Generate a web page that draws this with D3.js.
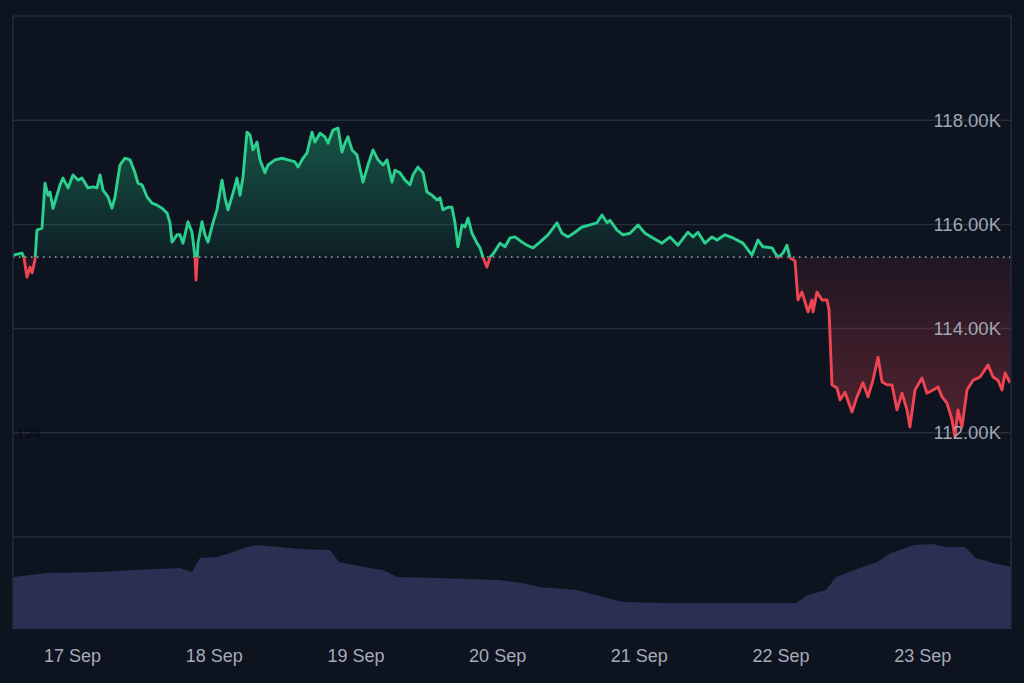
<!DOCTYPE html>
<html>
<head>
<meta charset="utf-8">
<script src="https://cdn.jsdelivr.net/npm/d3@7"></script>
<style>
  html, body { margin: 0; padding: 0; background: #0d131f; }
  svg { display: block; }
  text { font-family: "Liberation Sans", Arial, sans-serif; }
</style>
</head>
<body>
<div id="container"></div>
<script>
let w = 1024;
let h = 683;

// hours since 16 Sep 14:00 and BTC price in thousands of USD
let hours = [0, 1.52, 1.86, 2.37, 2.88, 3.22, 3.73, 4.06, 4.91, 5.42, 5.93, 6.27, 6.77, 7.45, 7.96, 8.47, 9.32, 10.16, 11.01, 11.69,
  12.7, 13.55, 14.23, 14.74, 15.24, 16.09, 16.77, 17.28, 18.12, 18.97, 19.82, 20.66, 21.17, 21.85, 22.7, 23.54, 24.39, 25.24, 26.08, 26.59,
  26.93, 27.78, 28.28, 28.79, 29.64, 30.32, 30.83, 31.0, 31.33, 32.01, 32.52, 33.03, 33.87, 34.55, 35.4, 35.91, 36.41, 37.26, 37.94, 38.45,
  38.96, 39.63, 40.14, 40.65, 41.33, 41.83, 42.68, 43.19, 44.37, 45.56, 46.58, 47.76, 48.27, 49.12, 49.79, 50.64, 51.15, 52.0, 52.84, 53.35,
  54.2, 55.05, 55.72, 56.23, 56.74, 57.42, 58.26, 59.28, 60.13, 60.97, 61.82, 62.67, 63.34, 64.19, 64.7, 65.55, 66.39, 67.24, 67.75, 68.59,
  69.44, 70.12, 70.97, 71.81, 72.32, 72.83, 73.68, 74.35, 74.86, 75.37, 76.05, 76.56, 77.06, 77.74, 78.59, 79.1, 79.6, 80.28, 80.79, 81.3,
  82.48, 83.33, 84.18, 85.02, 86.21, 87.06, 88.07, 89.26, 90.61, 92.14, 92.98, 94.0, 95.19, 96.37, 97.73, 98.91, 99.76, 100.61, 101.11, 102.3,
  103.32, 104.5, 105.86, 107.04, 108.4, 109.92, 111.28, 112.63, 114.32, 115.17, 116.02, 117.2, 118.39, 119.24, 120.59, 121.95, 123.64, 125.16, 126.18, 127.03,
  128.55, 129.57, 130.41, 131.09, 131.6, 132.45, 132.95, 133.63, 134.14, 134.65, 135.33, 135.5, 136.17, 137.02, 137.87, 138.21, 138.71, 139.56, 140.07, 140.92,
  142.1, 142.95, 143.96, 144.81, 145.66, 146.51, 147.18, 148.03, 148.88, 149.72, 150.57, 151.42, 151.92, 152.77, 153.96, 154.8, 155.82, 156.67, 157.35, 158.19,
  159.04, 159.55, 160.05, 160.73, 161.58, 162.6, 163.78, 165.14, 165.99, 166.83, 167.51, 168.02, 168.86];

let prices = [115.41, 115.45, 115.36, 114.99, 115.18, 115.07, 115.32, 115.89, 115.93, 116.79, 116.56, 116.62, 116.31, 116.56, 116.76, 116.89, 116.70, 116.95, 116.85, 116.89,
  116.70, 116.72, 116.70, 116.95, 116.66, 116.53, 116.31, 116.53, 117.14, 117.27, 117.24, 116.99, 116.79, 116.76, 116.53, 116.41, 116.37, 116.31, 116.22, 116.03,
  115.66, 115.80, 115.80, 115.64, 116.05, 115.85, 115.37, 114.93, 115.64, 116.05, 115.80, 115.66, 116.03, 116.28, 116.85, 116.51, 116.28, 116.60, 116.89, 116.56,
  116.91, 117.77, 117.72, 117.43, 117.58, 117.24, 116.99, 117.14, 117.24, 117.27, 117.24, 117.20, 117.10, 117.27, 117.37, 117.77, 117.58, 117.75, 117.68, 117.56,
  117.81, 117.85, 117.39, 117.56, 117.68, 117.43, 117.33, 116.81, 117.14, 117.43, 117.24, 117.14, 117.24, 116.81, 117.04, 116.99, 116.85, 116.76, 116.95, 117.10,
  116.99, 116.62, 116.56, 116.47, 116.51, 116.28, 116.33, 116.33, 116.03, 115.57, 115.99, 115.95, 116.12, 115.83, 115.64, 115.55, 115.37, 115.18, 115.37, 115.43,
  115.64, 115.57, 115.74, 115.76, 115.66, 115.60, 115.55, 115.66, 115.80, 116.03, 115.83, 115.76, 115.85, 115.95, 115.99, 116.03, 116.18, 116.03, 116.08, 115.89,
  115.80, 115.83, 115.99, 115.83, 115.74, 115.64, 115.76, 115.60, 115.85, 115.76, 115.85, 115.64, 115.76, 115.70, 115.80, 115.74, 115.64, 115.41, 115.70, 115.57,
  115.55, 115.36, 115.45, 115.60, 115.36, 115.30, 114.55, 114.70, 114.51, 114.32, 114.55, 114.32, 114.70, 114.55, 114.55, 114.36, 112.92, 112.86, 112.63, 112.78,
  112.40, 112.69, 112.96, 112.69, 113.01, 113.45, 112.98, 112.92, 112.92, 112.44, 112.76, 112.44, 112.11, 112.82, 113.05, 112.76, 112.82, 112.88, 112.69, 112.57,
  112.25, 111.92, 112.44, 112.11, 112.82, 113.01, 113.07, 113.30, 113.07, 113.01, 112.82, 113.15, 112.96];

let baseValue = 115.37;

// 24h volume, billions USD
let volHours = [0, 5.93, 14.74, 20.32, 28.28, 30.32, 31.67, 34.55, 37.26, 39.63, 41.33, 48.61, 53.69, 55.21, 60.3, 62.67, 65.04, 72.15, 82.31, 86.21,
  89.26, 95.52, 98.57, 103.32, 111.11, 132.62, 134.65, 137.7, 139.39, 142.44, 146.34, 148.71, 152.6, 155.82, 158.02, 161.24, 163.1, 165.99, 169.03];
let volumes = [31.2, 33.6, 34.2, 35.4, 36.6, 34.2, 42.6, 43.2, 46.2, 49.2, 50.4, 48.0, 47.4, 40.2, 36.6, 35.4, 31.2, 30.6, 29.4, 27.6,
  25.2, 23.4, 20.4, 16.2, 15.6, 15.6, 20.4, 23.4, 31.2, 35.4, 40.2, 45.6, 50.4, 51.0, 49.2, 49.2, 42.6, 39.6, 37.2];

let gridValues = [110, 112, 114, 116, 118, 120];
let priceTicks = [112, 114, 116, 118];

let start = new Date(2025, 8, 16, 14, 0);
let end = new Date(2025, 8, 23, 15, 2);
let toDate = function(hr){ return new Date(start.getTime() + hr * 3600e3); };

let priceData = hours.map(function(d, i){ return {t: toDate(d), p: prices[i]}; });
let volData = volHours.map(function(d, i){ return {t: toDate(d), v: volumes[i]}; });

let padL = 13, padR = 1011, padT = 16, paneSplit = 537, padB = 629;

let x = d3.scaleTime().domain([start, end]).range([padL, padR]);
let y = d3.scaleLinear().domain([110, 120]).range([paneSplit, padT]);
let yVol = d3.scaleLinear().domain([0, 55.2]).range([padB, paneSplit]);
let baseY = y(baseValue);

let viz = d3.select("#container").append("svg")
    .attr("width", w)
    .attr("height", h)
;
viz.append("rect").attr("width", w).attr("height", h).attr("fill", "#0d131f");

let defs = viz.append("defs");
defs.append("clipPath").attr("id", "above")
  .append("rect").attr("x", padL).attr("y", padT).attr("width", padR - padL).attr("height", baseY - padT);
defs.append("clipPath").attr("id", "below")
  .append("rect").attr("x", padL).attr("y", baseY).attr("width", padR - padL).attr("height", paneSplit - baseY);

let gGreen = defs.append("linearGradient").attr("id", "gGreen")
  .attr("gradientUnits", "userSpaceOnUse")
  .attr("x1", 0).attr("x2", 0).attr("y1", y(d3.max(prices))).attr("y2", baseY);
gGreen.append("stop").attr("offset", 0).attr("stop-color", "#26c98b").attr("stop-opacity", 0.36);
gGreen.append("stop").attr("offset", 1).attr("stop-color", "#26c98b").attr("stop-opacity", 0.07);

let gRed = defs.append("linearGradient").attr("id", "gRed")
  .attr("gradientUnits", "userSpaceOnUse")
  .attr("x1", 0).attr("x2", 0).attr("y1", baseY).attr("y2", y(d3.min(prices)));
gRed.append("stop").attr("offset", 0).attr("stop-color", "#ef4452").attr("stop-opacity", 0.08);
gRed.append("stop").attr("offset", 1).attr("stop-color", "#ef4452").attr("stop-opacity", 0.32);

// grid
viz.append("g").selectAll("line").data(gridValues).enter()
  .append("line")
  .attr("x1", padL).attr("x2", padR)
  .attr("y1", function(d){ return y(d); })
  .attr("y2", function(d){ return y(d); })
  .attr("stroke", "#262d3b")
  .attr("stroke-width", 1.5);

// volume pane
let volArea = d3.area()
  .x(function(d){ return x(d.t); })
  .y0(padB)
  .y1(function(d){ return yVol(d.v); });
viz.append("path").datum(volData)
  .attr("d", volArea)
  .attr("fill", "#293051");

// baseline series
let area = d3.area()
  .x(function(d){ return x(d.t); })
  .y0(baseY)
  .y1(function(d){ return y(d.p); });
let line = d3.line()
  .x(function(d){ return x(d.t); })
  .y(function(d){ return y(d.p); });

viz.append("path").datum(priceData).attr("d", area)
  .attr("fill", "url(#gGreen)").attr("clip-path", "url(#above)");
viz.append("path").datum(priceData).attr("d", area)
  .attr("fill", "url(#gRed)").attr("clip-path", "url(#below)");

viz.append("line")
  .attr("x1", padL).attr("x2", padR)
  .attr("y1", baseY).attr("y2", baseY)
  .attr("stroke", "#c9ccd4")
  .attr("stroke-width", 1.3)
  .attr("stroke-dasharray", "1.5,4.5");

viz.append("path").datum(priceData).attr("d", line)
  .attr("fill", "none").attr("stroke", "#2bd08e").attr("stroke-width", 2.9)
  .attr("stroke-linejoin", "round").attr("clip-path", "url(#above)");
viz.append("path").datum(priceData).attr("d", line)
  .attr("fill", "none").attr("stroke", "#ef4452").attr("stroke-width", 2.9)
  .attr("stroke-linejoin", "round").attr("clip-path", "url(#below)");

// frame
viz.append("line").attr("x1", padL).attr("x2", padL).attr("y1", padT).attr("y2", padB)
  .attr("stroke", "#262d3b").attr("stroke-width", 1.5);
viz.append("line").attr("x1", padR).attr("x2", padR).attr("y1", padT).attr("y2", padB)
  .attr("stroke", "#262d3b").attr("stroke-width", 1.5);

// price labels
let yAxis = d3.axisLeft(y)
  .tickValues(priceTicks)
  .tickSize(0)
  .tickPadding(0)
  .tickFormat(function(d){ return d3.format(".2f")(d) + "K"; });
let yg = viz.append("g").attr("transform", "translate(1001,0)").call(yAxis);
yg.select(".domain").remove();
yg.selectAll("text")
  .attr("fill", "#a2a6b3")
  .attr("font-size", 18.5)
  .style("font-family", "Liberation Sans, Arial, sans-serif");

// date labels
let xAxis = d3.axisBottom(x)
  .ticks(d3.timeDay.every(1))
  .tickSize(0)
  .tickPadding(0)
  .tickFormat(d3.timeFormat("%-d %b"));
let xg = viz.append("g").attr("transform", "translate(0,649)").call(xAxis);
xg.select(".domain").remove();
xg.selectAll("text")
  .attr("fill", "#a6aab7")
  .attr("font-size", 18)
  .style("font-family", "Liberation Sans, Arial, sans-serif");

// faint timestamp left in the pane
viz.append("text")
  .text("1:24")
  .attr("x", 17)
  .attr("y", 438)
  .attr("font-size", 12)
  .attr("fill", "#04070c");
</script>
</body>
</html>
